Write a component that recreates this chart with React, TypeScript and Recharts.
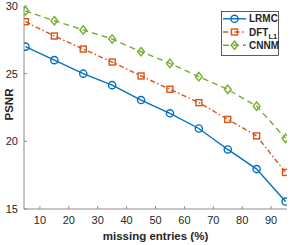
import React from 'react';
import { LineChart, Line, XAxis, YAxis, Legend } from 'recharts';

const missing = [5, 15, 25, 35, 45, 55, 65, 75, 85, 95];
const lrmc = [27.0, 26.0, 25.0, 24.15, 23.05, 22.07, 20.95, 19.4, 17.95, 15.55];
const dftL1 = [28.84, 27.78, 26.82, 25.86, 24.83, 23.85, 22.86, 21.62, 20.4, 17.7];
const cnnm = [29.63, 28.91, 28.23, 27.56, 26.62, 25.76, 24.78, 23.84, 22.6, 20.22];

const xTicks = [10, 20, 30, 40, 50, 60, 70, 80, 90];
const yTicks = [15, 20, 25, 30];

const data = missing.map((m, i) => ({ m, lrmc: lrmc[i], dft: dftL1[i], cnnm: cnnm[i] }));

const BLUE = '#0072BD';
const ORANGE = '#D95319';
const GREEN = '#77AC30';
const FONT = '"Liberation Sans", Arial, sans-serif';
const BOX = '#8c8c8c';
const TEXT = '#262626';

const circle = (cx: number, cy: number, c: string, key?: any) => (
    <circle key={key} cx={cx} cy={cy} r={3.6} fill="none" stroke={c} strokeWidth={1.4} />
);
const square = (cx: number, cy: number, c: string, key?: any) => (
    <rect key={key} x={cx - 3} y={cy - 3} width={6} height={6} fill="none" stroke={c} strokeWidth={1.4} />
);
const diamond = (cx: number, cy: number, c: string, key?: any) => (
    <path key={key} d={`M${cx},${cy - 4.2}L${cx + 3.4},${cy}L${cx},${cy + 4.2}L${cx - 3.4},${cy}Z`}
        fill="none" stroke={c} strokeWidth={1.4} />
);

const series = [
    { key: 'lrmc', name: 'LRMC', color: BLUE, dash: undefined, mark: circle },
    { key: 'dft', name: 'DFT', color: ORANGE, dash: '5 2.5 1.5 2.5', mark: square },
    { key: 'cnnm', name: 'CNNM', color: GREEN, dash: '6 4', mark: diamond },
];

const LegendBox = () => (
    <svg width={58} height={45} style={{ display: 'block' }}>
        <rect x={0.5} y={0.5} width={57} height={44} fill="#fff" stroke="#333" strokeWidth={0.8} />
        {series.map((s, i) => {
            const y = 7.8 + i * 13.2;
            return (
                <g key={s.key}>
                    <line x1={2} x2={25} y1={y} y2={y} stroke={s.color} strokeWidth={1.4} strokeDasharray={s.dash} />
                    {s.mark(13.5, y, s.color)}
                    <text x={28} y={y + 3.5} fontFamily={FONT} fontWeight="bold" fontSize={10} fill={TEXT}>
                        {s.key === 'dft' ? (
                            <>
                                <tspan>DFT</tspan>
                                <tspan fontSize={7.5} dy={3}>L1</tspan>
                            </>
                        ) : s.name}
                    </text>
                </g>
            );
        })}
    </svg>
);

const YLabel = (props: any) => {
    const { viewBox } = props;
    const cx = viewBox.x + 9;
    const cy = viewBox.y + viewBox.height / 2 - 3;
    return (
        <text x={cx} y={cy} transform={`rotate(-90 ${cx} ${cy})`} textAnchor="middle" dominantBaseline="central"
            fontFamily={FONT} fontWeight="bold" fontSize={11.5} fill={TEXT}>PSNR</text>
    );
};

const tickStyle = { fontSize: 11, fill: TEXT, fontFamily: FONT };

export default function App() {
    return (
        <div style={{ position: 'absolute', left: 0, top: 0, background: '#fff' }}>
            <LineChart width={291} height={245} data={data} margin={{ top: 6, right: 4, left: 0, bottom: 0 }}>
                <XAxis dataKey="m" type="number" domain={[4.5, 95.5]} ticks={xTicks} allowDataOverflow
                    height={36} stroke={BOX} tickSize={-3} tickMargin={10} tick={tickStyle}
                    label={{ value: 'missing entries (%)', position: 'insideBottom', offset: 5, fontFamily: FONT, fontWeight: 'bold', fontSize: 11.5, fill: TEXT }} />
                <XAxis xAxisId="top" orientation="top" dataKey="m" type="number" domain={[4.5, 95.5]} ticks={xTicks}
                    allowDataOverflow height={0} stroke={BOX} tickSize={-3} tick={false} />
                <YAxis type="number" domain={[15, 30]} ticks={yTicks} width={24} stroke={BOX}
                    tickSize={-3} tickMargin={9} tick={tickStyle} label={<YLabel />} />
                <YAxis yAxisId="right" orientation="right" type="number" domain={[15, 30]} ticks={yTicks}
                    width={0} stroke={BOX} tickSize={-3} tick={false} />
                {series.map(s => (
                    <Line key={s.key} dataKey={s.key} name={s.name} stroke={s.color} strokeWidth={1.4}
                        strokeDasharray={s.dash} isAnimationActive={false}
                        dot={(p: any) => s.mark(p.cx, p.cy, s.color, p.key ?? p.index)} />
                ))}
                <Legend layout="horizontal" verticalAlign="middle" align="center" content={<LegendBox />}
                    wrapperStyle={{ left: 221, top: 11, width: 58, height: 45 }} />
            </LineChart>
        </div>
    );
}
